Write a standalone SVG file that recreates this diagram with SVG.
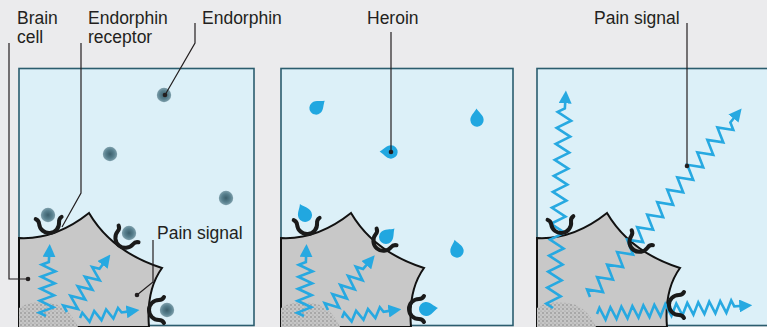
<svg xmlns="http://www.w3.org/2000/svg" xmlns:xlink="http://www.w3.org/1999/xlink" width="767" height="327" viewBox="0 0 767 327">
  <style>
    .label { font-family: "Liberation Sans", Arial, sans-serif; font-size: 17.5px; fill: #231f20; }
    .panel { fill: #dcf0f8; stroke: #2b5d6e; stroke-width: 1.6; }
    .cell { fill: #c8c8c8; stroke: #111; stroke-width: 2; stroke-linejoin: miter; }
    .nucleus { fill: url(#stipple); }
    .zig { fill: none; stroke: #27a9e1; stroke-width: 2.6; stroke-linejoin: miter; marker-end: url(#head); }
    .cup { fill: none; stroke: #1a1a1a; stroke-width: 4; stroke-linecap: round; }
    .heroin { fill: #21a7e0; }
    .leader { fill: none; stroke: #231f20; stroke-width: 1.2; }
    .dot { fill: #231f20; }
  </style>
  <defs>
    <pattern id="stipple" width="4" height="4" patternUnits="userSpaceOnUse">
      <rect width="4" height="4" fill="#c6c6c6"/>
      <circle cx="1" cy="1" r="0.75" fill="#7c7c7c"/>
      <circle cx="3" cy="3" r="0.6" fill="#949494"/>
    </pattern>
    <radialGradient id="ball" cx="0.5" cy="0.5" r="0.5">
      <stop offset="0" stop-color="#3c5f6c"/>
      <stop offset="0.6" stop-color="#58808e"/>
      <stop offset="1" stop-color="#7fa0ac"/>
    </radialGradient>
    <marker id="head" viewBox="0 0 13 13" markerWidth="13" markerHeight="13" refX="1" refY="6.5" orient="auto" markerUnits="userSpaceOnUse">
      <path d="M0,0 L13,6.5 L0,13 Z" fill="#27a9e1"/>
    </marker>
    <!-- scalloped brain cell outline, drawn for the first panel -->
    <path id="cellShape" class="cell" d="M19,238 Q55,240 89,213 Q112,252 162,268 Q146,290 149,327 L19,327 Z"/>
    <path id="nucleusShape" class="nucleus" d="M19,327 V308 Q35,298 58,305 Q72,312 78,327 Z"/>
    <!-- receptor cup, opening upward, origin at the seat -->
    <path id="cupShape" class="cup" d="M-13,-4 C-11,-3 -10,-1 -10,1 A10,10 0 0 0 10,1 C10,-1 11,-3 13,-4"/>
    <circle id="endorphin" r="7.2" fill="url(#ball)"/>
    <path id="drop" class="heroin" d="M0,-12 C2,-8 7,-5 7,0 A7,7 0 0 1 -7,0 C-7,-5 -2,-8 0,-12 Z"/>
  </defs>

  <rect width="767" height="327" fill="#ebebed"/>

  <!-- Panel 1: endorphin -->
  <g id="panel-1">
    <rect class="panel" x="19" y="68.5" width="235" height="257"/>
    <g id="cell-1">
      <use href="#cellShape"/>
      <use href="#nucleusShape"/>
    </g>
    <g id="signals-1">
      <path class="zig" transform="translate(46,316) rotate(-87)" d="M0,0 l3,-7 l6,14 l6,-14 l6,14 l6,-14 l6,14 l6,-14 l6,14 l6,-14 l3,7 l6,0"/>
      <path class="zig" transform="translate(67,312) rotate(-53)" d="M0,0 l3,-7 l6,14 l6,-14 l6,14 l6,-14 l6,14 l6,-14 l6,14 l6,-14 l3,7 l6,0"/>
      <path class="zig" transform="translate(80,318) rotate(-7.6)" d="M0,0 l3,-5 l6,10 l6,-10 l6,10 l6,-10 l6,10 l6,-10 l3,5 l6,0"/>
    </g>
    <g id="receptors-1">
      <use href="#cupShape" transform="translate(49,222) rotate(-5)"/>
      <use href="#cupShape" transform="translate(126,237) rotate(40)"/>
      <use href="#cupShape" transform="translate(160,310) rotate(90)"/>
    </g>
    <g id="endorphins-1">
      <use href="#endorphin" x="48" y="215"/>
      <use href="#endorphin" x="129" y="233"/>
      <use href="#endorphin" x="167" y="310"/>
      <use href="#endorphin" x="164" y="95"/>
      <use href="#endorphin" x="110" y="154"/>
      <use href="#endorphin" x="226" y="198"/>
    </g>
  </g>

  <!-- Panel 2: heroin -->
  <g id="panel-2">
    <rect class="panel" x="281" y="68.5" width="232" height="257"/>
    <g id="cell-2">
      <use href="#cellShape" x="262"/>
      <use href="#nucleusShape" x="262"/>
    </g>
    <g id="signals-2">
      <path class="zig" transform="translate(304,316) rotate(-88)" d="M0,0 l3,-7 l6,14 l6,-14 l6,14 l6,-14 l6,14 l6,-14 l6,14 l6,-14 l3,7 l6,0"/>
      <path class="zig" transform="translate(328,310) rotate(-49.5)" d="M0,0 l3,-7 l6,14 l6,-14 l6,14 l6,-14 l6,14 l6,-14 l6,14 l6,-14 l3,7 l6,0"/>
      <path class="zig" transform="translate(342,318) rotate(-8.5)" d="M0,0 l3,-5 l6,10 l6,-10 l6,10 l6,-10 l6,10 l6,-10 l3,5 l6,0"/>
    </g>
    <g id="receptors-2">
      <use href="#cupShape" transform="translate(307,223) rotate(-5)"/>
      <use href="#cupShape" transform="translate(384,240) rotate(40)"/>
      <use href="#cupShape" transform="translate(420,309) rotate(90)"/>
    </g>
    <g id="heroin-2">
      <use href="#drop" transform="translate(305,215) rotate(-25)"/>
      <use href="#drop" transform="translate(386,237) rotate(45)"/>
      <use href="#drop" transform="translate(426,309) rotate(85)"/>
      <use href="#drop" transform="translate(316,108) rotate(50) scale(0.95)"/>
      <use href="#drop" transform="translate(391,152) rotate(-88) scale(0.95)"/>
      <use href="#drop" transform="translate(477,120) rotate(-3) scale(0.95)"/>
      <use href="#drop" transform="translate(457,251) rotate(-12) scale(0.95)"/>
    </g>
  </g>

  <!-- Panel 3: unchecked pain signal -->
  <g id="panel-3">
    <rect class="panel" x="537" y="68.5" width="240" height="257"/>
    <g id="cell-3">
      <use href="#cellShape" x="518"/>
      <use href="#nucleusShape" x="518"/>
    </g>
    <g id="signals-3">
      <path class="zig" transform="translate(553,308) rotate(-86.6)" d="M0,0 l4,-7 l8,14 l8,-14 l8,14 l8,-14 l8,14 l8,-14 l8,14 l8,-14 l8,14 l8,-14 l8,14 l8,-14 l8,14 l8,-14 l8,14 l8,-14 l8,14 l8,-14 l8,14 l8,-14 l8,14 l8,-14 l8,14 l8,-14 l4,7 l6,0"/>
      <path class="zig" transform="translate(590,297) rotate(-51.2)" d="M0,0 l4,-7 l8,14 l8,-14 l8,14 l8,-14 l8,14 l8,-14 l8,14 l8,-14 l8,14 l8,-14 l8,14 l8,-14 l8,14 l8,-14 l8,14 l8,-14 l8,14 l8,-14 l8,14 l8,-14 l8,14 l8,-14 l8,14 l8,-14 l8,14 l8,-14 l8,14 l4,-7 l6,0"/>
      <path class="zig" transform="translate(597,314) rotate(-3.2)" d="M0,0 l2.75,-6 l5.5,12 l5.5,-12 l5.5,12 l5.5,-12 l5.5,12 l5.5,-12 l5.5,12 l5.5,-12 l5.5,12 l5.5,-12 l5.5,12 l5.5,-12 l5.5,12 l5.5,-12 l5.5,12 l5.5,-12 l5.5,12 l5.5,-12 l5.5,12 l5.5,-12 l5.5,12 l5.5,-12 l5.5,12 l5.5,-12 l2.75,6 l6,0"/>
    </g>
    <g id="receptors-3">
      <use href="#cupShape" transform="translate(561,222) rotate(-8)"/>
      <use href="#cupShape" transform="translate(640,241) rotate(35)"/>
      <use href="#cupShape" transform="translate(680,305) rotate(90)"/>
    </g>
  </g>

  <!-- leader lines from the labels -->
  <g id="connectors">
    <path class="leader" d="M9,43 V279 H28"/>
    <circle class="dot" cx="28" cy="279" r="2.3"/>
    <path class="leader" d="M81,43 V193 L62,227"/>
    <path class="leader" d="M195,23 V43 L165,95"/>
    <circle class="dot" cx="165" cy="95" r="2.3"/>
    <path class="leader" d="M153,240 V282 L137,295"/>
    <circle class="dot" cx="137" cy="295" r="2.3"/>
    <path class="leader" d="M391,32 V152"/>
    <circle class="dot" cx="391" cy="152" r="2.3"/>
    <path class="leader" d="M687,23 V166"/>
    <circle class="dot" cx="687" cy="166" r="2.3"/>
  </g>

  <g id="labels">
    <text class="label" x="17" y="24">Brain</text>
    <text class="label" x="17" y="43">cell</text>
    <text class="label" x="88" y="24">Endorphin</text>
    <text class="label" x="88" y="43">receptor</text>
    <text class="label" x="202" y="24">Endorphin</text>
    <text class="label" x="367" y="24">Heroin</text>
    <text class="label" x="594" y="24">Pain signal</text>
    <text class="label" x="157" y="239">Pain signal</text>
  </g>
</svg>
